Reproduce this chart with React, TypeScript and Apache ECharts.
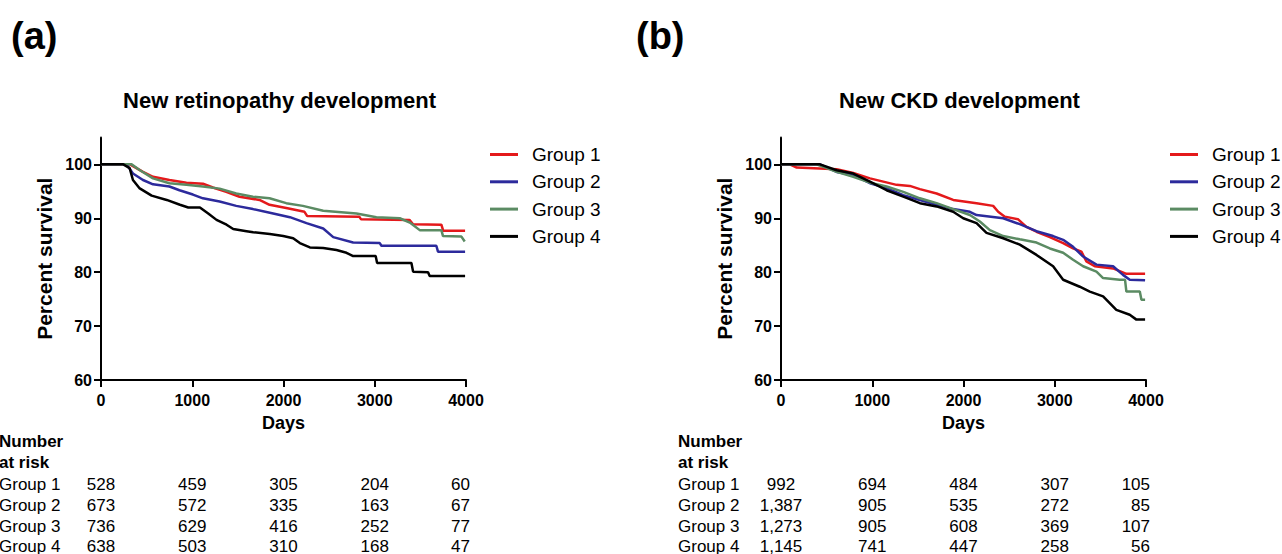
import React, { useEffect, useRef } from "react";
import * as echarts from "echarts";

const FONT = "'Liberation Sans', Arial, Helvetica, sans-serif";

const groupNames = ["Group 1", "Group 2", "Group 3", "Group 4"];
const groupColors = ["#e4191b", "#2c2a9c", "#5b8b63", "#000000"];

const xTicks = [0, 1000, 2000, 3000, 4000];
const yTicks = [60, 70, 80, 90, 100];

// Panel (a): New retinopathy development  [days, percent survival]
const retG1 = [[0,100],[317,100],[460,98.6],[570,97.7],[750,97.1],[936,96.6],[1117,96.4],[1226,95.7],[1372,94.9],[1518,94.0],[1737,93.4],[1847,92.5],[2030,91.9],[2230,91.2],[2260,90.4],[2830,90.3],[2850,89.8],[3380,89.7],[3420,88.9],[3730,88.8],[3750,87.7],[3990,87.7]];
const retG2 = [[0,100],[280,100],[350,98.3],[460,97.1],[570,96.3],[750,95.9],[860,95.2],[1007,94.4],[1117,93.7],[1300,93.1],[1482,92.3],[1665,91.7],[1887,90.9],[2070,90.2],[2252,89.1],[2435,88.1],[2545,86.5],[2763,85.5],[3055,85.4],[3073,84.9],[3675,84.9],[3693,83.8],[3990,83.8]];
const retG3 = [[0,100],[335,100],[427,98.9],[570,97.4],[750,96.5],[936,96.2],[1117,95.9],[1300,95.5],[1482,94.6],[1665,94.0],[1847,93.7],[2030,92.8],[2212,92.3],[2435,91.4],[2800,90.9],[3018,90.2],[3274,90.0],[3384,89.2],[3493,87.8],[3730,87.8],[3748,86.7],[3950,86.6],[3986,85.7]];
const retG4 = [[0,100],[244,100],[314,99.3],[350,97.1],[420,95.6],[555,94.2],[720,93.4],[865,92.5],[956,92.0],[1084,92.0],[1175,90.9],[1266,89.7],[1376,88.8],[1449,88.0],[1595,87.6],[1668,87.4],[1850,87.1],[1997,86.7],[2106,86.3],[2179,85.4],[2289,84.6],[2435,84.5],[2581,84.1],[2690,83.6],[2763,83.0],[3010,83.0],[3026,81.7],[3402,81.7],[3420,80.1],[3584,80.0],[3602,79.3],[3990,79.3]];

// Panel (b): New CKD development
const ckdG1 = [[0,100],[98,100],[172,99.4],[610,99.1],[792,98.4],[975,97.4],[1121,96.8],[1266,96.2],[1412,96.0],[1522,95.4],[1705,94.6],[1887,93.4],[2143,92.8],[2325,92.3],[2380,91.2],[2453,90.3],[2599,89.8],[2690,88.4],[2800,87.5],[2946,86.5],[3092,85.4],[3201,84.4],[3292,83.8],[3347,82.0],[3438,81.1],[3639,80.7],[3785,79.7],[3990,79.7]];
const ckdG2 = [[0,100],[427,100],[610,98.6],[792,98.0],[975,96.5],[1157,95.6],[1340,94.3],[1522,93.4],[1705,92.5],[1887,91.7],[2070,91.2],[2143,90.6],[2435,90.0],[2617,88.9],[2800,87.6],[2982,86.7],[3092,86.0],[3201,84.7],[3311,82.9],[3457,81.4],[3639,81.1],[3748,79.5],[3822,78.6],[3990,78.5]];
const ckdG3 = [[0,100],[390,100],[610,98.6],[792,97.7],[975,96.6],[1157,95.9],[1340,94.9],[1522,93.7],[1705,92.8],[1887,91.7],[2070,90.6],[2179,89.4],[2289,87.8],[2435,86.7],[2617,86.1],[2800,85.5],[2946,84.4],[3092,83.6],[3201,82.3],[3311,81.1],[3457,80.1],[3530,78.9],[3712,78.6],[3770,78.6],[3785,76.4],[3932,76.4],[3950,74.9],[3990,74.9]];
const ckdG4 = [[0,100],[427,100],[610,98.9],[792,98.3],[975,96.8],[1157,95.2],[1340,94.0],[1522,92.8],[1705,92.2],[1887,91.2],[1997,90.0],[2143,89.1],[2252,87.3],[2435,86.3],[2617,85.1],[2800,83.2],[2982,81.1],[3092,78.6],[3274,77.3],[3384,76.4],[3530,75.5],[3675,73.0],[3822,72.1],[3895,71.2],[3990,71.2]];

// Number at risk tables
const retRisk1 = ["528", "459", "305", "204", "60"];
const retRisk2 = ["673", "572", "335", "163", "67"];
const retRisk3 = ["736", "629", "416", "252", "77"];
const retRisk4 = ["638", "503", "310", "168", "47"];
const ckdRisk1 = ["992", "694", "484", "307", "105"];
const ckdRisk2 = ["1,387", "905", "535", "272", "85"];
const ckdRisk3 = ["1,273", "905", "608", "369", "107"];
const ckdRisk4 = ["1,145", "741", "447", "258", "56"];

const panelTitles = ["New retinopathy development", "New CKD development"];
const panelLabels = ["(a)", "(b)"];

export default function App() {
  const ref = useRef<HTMLDivElement>(null);

  useEffect(() => {
    if (!ref.current) return;
    const chart = echarts.init(ref.current, null, { renderer: "svg" });

    const panels = [
      { left: 101, data: [retG1, retG2, retG3, retG4], risk: [retRisk1, retRisk2, retRisk3, retRisk4], tableLeft: -1, legendLeft: 490, labelX: 11 },
      { left: 781, data: [ckdG1, ckdG2, ckdG3, ckdG4], risk: [ckdRisk1, ckdRisk2, ckdRisk3, ckdRisk4], tableLeft: 678, legendLeft: 1170, labelX: 636 },
    ];

    const axisText = { color: "#000", fontFamily: FONT, fontWeight: "bold" as const, fontSize: 16 };

    const option: any = {
      animation: false,
      backgroundColor: "#fff",
      grid: panels.map((p) => ({ left: p.left, top: 137.4, width: 365, height: 242.6 })),
      xAxis: panels.map((p, i) => ({
        type: "value",
        gridIndex: i,
        min: 0,
        max: 4000,
        interval: 1000,
        name: "Days",
        nameLocation: "middle",
        nameGap: 34,
        nameTextStyle: { color: "#000", fontFamily: FONT, fontWeight: "bold", fontSize: 18 },
        axisLine: { lineStyle: { color: "#000", width: 2 } },
        axisTick: { length: 7, lineStyle: { color: "#000", width: 2 } },
        axisLabel: { ...axisText, margin: 12, formatter: (v: number) => String(v) },
        splitLine: { show: false },
      })),
      yAxis: panels.map((p, i) => ({
        type: "value",
        gridIndex: i,
        min: 60,
        max: 105,
        interval: 10,
        name: "Percent survival",
        nameLocation: "middle",
        nameRotate: 90,
        nameGap: 46,
        nameTextStyle: { color: "#000", fontFamily: FONT, fontWeight: "bold", fontSize: 21 },
        axisLine: { lineStyle: { color: "#000", width: 2 } },
        axisTick: { length: 7, lineStyle: { color: "#000", width: 2 }, customValues: yTicks },
        axisLabel: { ...axisText, margin: 9, customValues: yTicks },
        splitLine: { show: false },
      })),
      legend: panels.map((p) => ({
        orient: "vertical",
        left: p.legendLeft,
        top: 145,
        padding: 0,
        itemWidth: 28,
        itemHeight: 3,
        itemGap: 8.3,
        icon: "rect",
        selectedMode: false,
        data: groupNames,
        textStyle: { color: "#000", fontFamily: FONT, fontSize: 19, lineHeight: 19, padding: [0, 0, 0, 9] },
      })),
      series: panels.flatMap((p, i) =>
        p.data.map((d, g) => ({
          type: "line",
          name: groupNames[g],
          xAxisIndex: i,
          yAxisIndex: i,
          data: d,
          symbol: "none",
          color: groupColors[g],
          lineStyle: { color: groupColors[g], width: 2.5 },
        }))
      ),
    };

    chart.setOption(option);

    const graphics: any[] = [];
    panels.forEach((p, i) => {
      const xs = xTicks.map((t) => chart.convertToPixel({ gridIndex: i } as any, [t, 60])[0]);
      const mid = (xs[0] + xs[xs.length - 1]) / 2;
      graphics.push({
        type: "text", x: p.labelX, y: 36,
        style: { text: panelLabels[i], fontSize: 38, fontWeight: "bold", fontFamily: FONT, fill: "#000", align: "left", verticalAlign: "middle" },
      });
      graphics.push({
        type: "text", x: mid - 4, y: 100.5,
        style: { text: panelTitles[i], fontSize: 22, fontWeight: "bold", fontFamily: FONT, fill: "#000", align: "center", verticalAlign: "middle" },
      });
      graphics.push({
        type: "text", x: p.tableLeft, y: 441.5,
        style: { text: "Number", fontSize: 17, fontWeight: "bold", fontFamily: FONT, fill: "#000", align: "left", verticalAlign: "middle" },
      });
      graphics.push({
        type: "text", x: p.tableLeft, y: 462.5,
        style: { text: "at risk", fontSize: 17, fontWeight: "bold", fontFamily: FONT, fill: "#000", align: "left", verticalAlign: "middle" },
      });
      const rowY = [484.5, 505.5, 526, 546];
      p.risk.forEach((row, g) => {
        graphics.push({
          type: "text", x: p.tableLeft, y: rowY[g],
          style: { text: groupNames[g], fontSize: 17, fontFamily: FONT, fill: "#000", align: "left", verticalAlign: "middle" },
        });
        row.forEach((v, c) => {
          const last = c === row.length - 1;
          graphics.push({
            type: "text", x: last ? xs[c] + 4 : xs[c], y: rowY[g],
            style: { text: v, fontSize: 17, fontFamily: FONT, fill: "#000", align: last ? "right" : "center", verticalAlign: "middle" },
          });
        });
      });
    });

    chart.setOption({ graphic: graphics });

    return () => chart.dispose();
  }, []);

  return <div ref={ref} style={{ position: "absolute", left: 0, top: 0, width: 1282, height: 554, background: "#fff" }} />;
}
